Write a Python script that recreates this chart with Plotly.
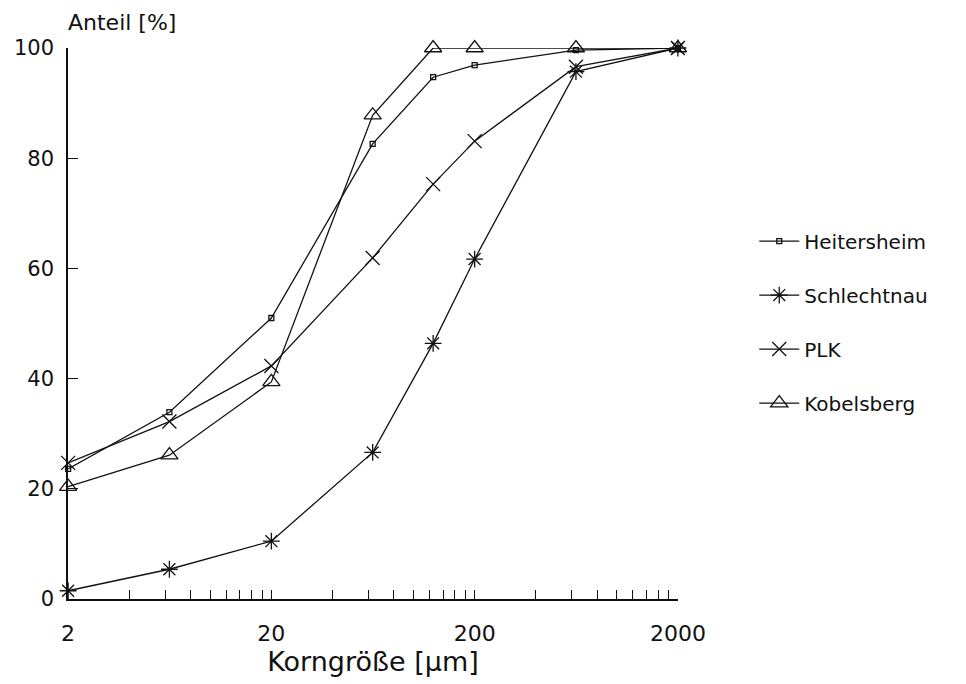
import plotly.graph_objects as go

sizes = [2, 6.3, 20, 63, 125, 200, 630, 2000]
heitersheim = [23.6, 33.9, 51.0, 82.6, 94.7, 96.9, 99.6, 100]
schlechtnau = [1.5, 5.4, 10.5, 26.6, 46.4, 61.7, 95.7, 100]
plk = [24.7, 32.2, 42.3, 61.9, 75.3, 83.1, 96.6, 100]
kobelsberg = [20.4, 26.1, 39.4, 87.8, 100, 100, 100, 100]

series_names = ["Heitersheim", "Schlechtnau", "PLK", "Kobelsberg"]
series_values = [heitersheim, schlechtnau, plk, kobelsberg]
symbols = ["square-open", "asterisk-open", "x-thin-open", "triangle-up-open"]
msizes = [5, 14, 14, 15]

x_tickvals = [2, 4, 6, 8, 10, 12, 14, 16, 18, 20,
              40, 60, 80, 100, 120, 140, 160, 180, 200,
              400, 600, 800, 1000, 1200, 1400, 1600, 1800, 2000]
x_labels = {2: "2", 20: "20", 200: "200", 2000: "2000"}
y_tickvals = [0, 20, 40, 60, 80, 100]

FONT = "DejaVu Sans"
INK = "#111111"

fig = go.Figure()
for i, (name, vals) in enumerate(zip(series_names, series_values)):
    fig.add_trace(go.Scatter(
        x=sizes, y=vals, name=name, mode="lines+markers",
        legendgroup=name,
        line=dict(color=INK, width=1.3),
        marker=dict(symbol=symbols[i], size=msizes[i], color=INK,
                    line=dict(color=INK, width=1.3)),
        cliponaxis=False,
    ))

fig.update_layout(
    width=966, height=684,
    margin=dict(l=68, r=288, t=48, b=85),
    paper_bgcolor="white", plot_bgcolor="white",
    font=dict(family=FONT, color=INK, size=20),
    showlegend=True,
    legend=dict(x=1.125, y=0.685, xanchor="left", yanchor="top",
                font=dict(family=FONT, size=20, color=INK),
                tracegroupgap=25, itemwidth=40,
                bgcolor="rgba(0,0,0,0)"),
    xaxis=dict(
        type="log", range=[0.3005, 3.3015],
        showgrid=False, zeroline=False,
        showline=True, linecolor=INK, linewidth=1.5,
        ticks="inside", ticklen=9, tickwidth=1.2, tickcolor=INK,
        tickvals=x_tickvals,
        ticktext=[x_labels.get(v, "") for v in x_tickvals],
        tickfont=dict(family=FONT, size=22, color=INK),
        ticklabelstandoff=14,
        title=dict(text="Korngröße [µm]", font=dict(family=FONT, size=27, color=INK),
                   standoff=4),
    ),
    yaxis=dict(
        range=[0, 100],
        showgrid=False, zeroline=False,
        showline=True, linecolor=INK, linewidth=1.5,
        ticks="inside", ticklen=10, tickwidth=1.2, tickcolor=INK,
        tickvals=y_tickvals,
        tickfont=dict(family=FONT, size=21, color=INK),
        ticklabelstandoff=8,
    ),
)

fig.add_annotation(
    text="Anteil [%]", xref="paper", yref="paper", x=0, y=1,
    xanchor="left", yanchor="bottom", yshift=11, xshift=-2, showarrow=False,
    font=dict(family=FONT, size=22, color=INK),
)

fig.write_html("out.html")
